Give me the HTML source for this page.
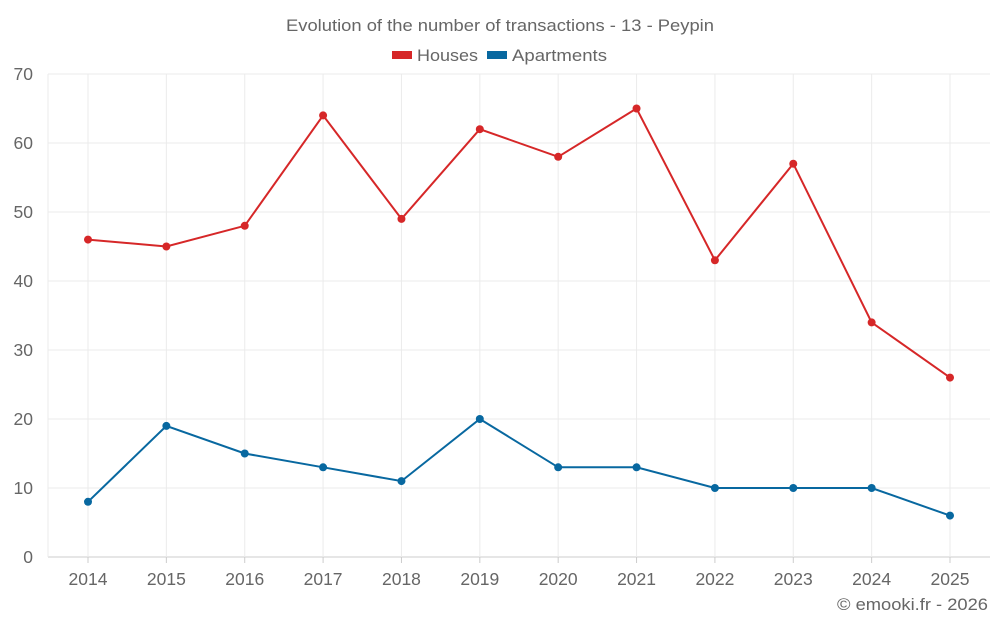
<!DOCTYPE html>
<html><head><meta charset="utf-8"><style>
body{margin:0;background:#fff;font-family:"Liberation Sans",sans-serif;}
svg text{font-family:"Liberation Sans",sans-serif;fill:#666;}
</style></head><body>
<svg id="chart" width="1000" height="625" xmlns="http://www.w3.org/2000/svg">
<text x="286" y="31" font-size="17" textLength="428" lengthAdjust="spacingAndGlyphs">Evolution of the number of transactions - 13 - Peypin</text>
<g>
<g><rect x="392" y="51" width="20" height="8" fill="#d62728"/><text x="417" y="61" font-size="17" textLength="61" lengthAdjust="spacingAndGlyphs">Houses</text></g>
<g><rect x="487" y="51" width="20" height="8" fill="#0868a0"/><text x="512" y="61" font-size="17" textLength="95" lengthAdjust="spacingAndGlyphs">Apartments</text></g>
</g>
<g id="grid"></g>
<g id="axes"></g>
<g id="series"></g>
<text x="837" y="610" font-size="17" textLength="151" lengthAdjust="spacingAndGlyphs">© emooki.fr - 2026</text>
</svg>
<script>
const years=["2014","2015","2016","2017","2018","2019","2020","2021","2022","2023","2024","2025"];
const houses=[46,45,48,64,49,62,58,65,43,57,34,26];
const apartments=[8,19,15,13,11,20,13,13,10,10,10,6];
const yTicks=[0,10,20,30,40,50,60,70];
const NS="http://www.w3.org/2000/svg";
const L=48,R=990,T=74,B=557;
const x=i=>88+i*(950-88)/(years.length-1);
const y=v=>B-(v/70)*(B-T);
function mk(tag,attrs,parent){const e=document.createElementNS(NS,tag);for(const k in attrs)e.setAttribute(k,attrs[k]);parent.appendChild(e);return e;}
const grid=document.getElementById('grid'),axes=document.getElementById('axes'),series=document.getElementById('series');
yTicks.forEach(t=>{
 const l=mk('line',{x1:L,x2:R,y1:y(t),y2:y(t),stroke:t===0?'#ccc':'#ebebeb','stroke-width':1},grid);
 
 
 const tx=mk('text',{x:33,y:y(t)+6,'text-anchor':'end','font-size':17.5},axes);
 tx.textContent=t;
 
 
});
years.forEach((yr,i)=>{
 const l=mk('line',{x1:x(i),x2:x(i),y1:T,y2:B,stroke:'#ebebeb','stroke-width':1},grid);
 
 
 const tk=mk('line',{x1:x(i),x2:x(i),y1:B,y2:B+6,stroke:'#ccc'},axes);
 
 
 const tx=mk('text',{x:x(i),y:585,'text-anchor':'middle','font-size':17.5},axes);
 tx.textContent=yr;
 
 
});
const gl=mk('line',{x1:L,x2:L,y1:T,y2:B,stroke:'#ebebeb'},grid);


function draw(data,color,name){
 const p=mk('polyline',{points:data.map((v,i)=>x(i)+','+y(v)).join(' '),fill:'none',stroke:color,'stroke-width':2},series);
 
 
 data.forEach((v,i)=>{
  const c=mk('circle',{cx:x(i),cy:y(v),r:4,fill:color},series);
  
  
 });
}
draw(houses,'#d62728','houses');
draw(apartments,'#0868a0','apartments');
</script>
</body></html>
